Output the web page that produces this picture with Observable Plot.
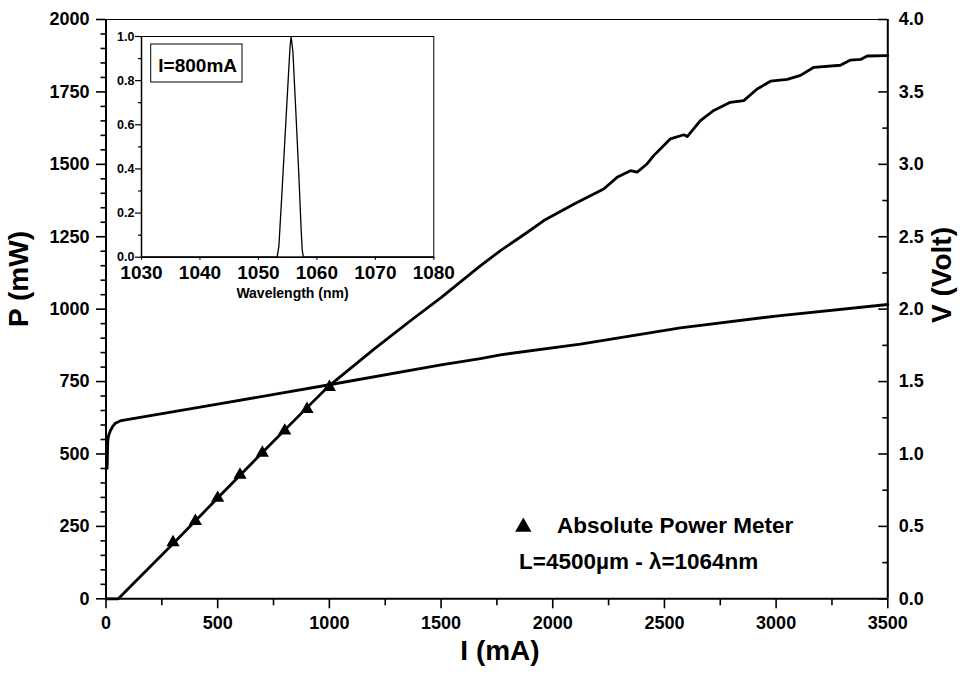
<!DOCTYPE html>
<html><head><meta charset="utf-8">
<script src="https://cdn.jsdelivr.net/npm/d3@7"></script>
<script src="https://cdn.jsdelivr.net/npm/@observablehq/plot@0.6"></script>
<style>
body{margin:0;background:#fff;}
#wrap{position:relative;width:960px;height:675px;}
#wrap svg{position:absolute;left:0;top:0;}
</style></head><body><div id="wrap"></div>
<script>
// ---- main chart data ----
const currentP = [0, 55, 300, 500, 700, 900, 1000, 1200, 1363, 1500, 1677, 1766, 1880, 1960, 2100, 2228, 2288, 2348, 2378, 2423, 2452, 2527, 2587, 2602, 2661, 2721, 2795, 2855, 2915, 2975, 3050, 3109, 3169, 3288, 3333, 3378, 3408, 3500];
const powerP   = [0, 0, 190, 348, 505, 660, 736, 862, 960, 1040, 1150, 1202, 1262, 1306, 1365, 1415, 1455, 1478, 1473, 1502, 1530, 1588, 1602, 1596, 1651, 1686, 1714, 1720, 1760, 1787, 1793, 1807, 1835, 1842, 1860, 1862, 1874, 1875];
const currentV = [5, 6, 7, 8, 12, 20, 30, 42, 68, 500, 1000, 1500, 1676, 1766, 2124, 2571, 3019, 3500];
const voltage  = [0.90, 0.95, 1.03, 1.09, 1.13, 1.162, 1.19, 1.212, 1.231, 1.344, 1.478, 1.615, 1.658, 1.685, 1.759, 1.871, 1.956, 2.032];
const meterI = [300, 400, 500, 600, 700, 800, 900, 1000];
const meterP = [195, 268, 348, 428, 504, 580, 655, 731];
// ---- inset data ----
const wavelength = [1030, 1053.2, 1053.5, 1054.0, 1054.5, 1055.0, 1055.4, 1055.6, 1055.9, 1056.4, 1056.9, 1057.3, 1057.5, 1057.7, 1080];
const intensity  = [0, 0, 0.05, 0.28, 0.52, 0.76, 0.95, 1.0, 0.93, 0.66, 0.38, 0.13, 0.03, 0, 0];
// ---- ticks / labels ----
const xTicks = [0, 500, 1000, 1500, 2000, 2500, 3000, 3500];
const xMinor = [250, 750, 1250, 1750, 2250, 2750, 3250];
const pTicks = [0, 250, 500, 750, 1000, 1250, 1500, 1750, 2000];
const vTicks = [0, 0.5, 1.0, 1.5, 2.0, 2.5, 3.0, 3.5, 4.0];
const vMinor = [0.25, 0.75, 1.25, 1.75, 2.25, 2.75, 3.25, 3.75];
const insetXTicks = [1030, 1040, 1050, 1060, 1070, 1080];
const insetYTicks = [0, 0.2, 0.4, 0.6, 0.8, 1.0];
const insetYMinor = [0.1, 0.3, 0.5, 0.7, 0.9];
const xLabel = "I (mA)", pLabel = "P (mW)", vLabel = "V (Volt)";
const legendText = "Absolute Power Meter", noteText = "L=4500\u00b5m - \u03bb=1064nm";
const insetLabel = "Wavelength (nm)", insetNote = "I=800mA";

const V2P = 2000 / 4.0; // right axis (V) mapped onto left axis (mW)
const pMinor = d3.range(0, 2001, 50).filter(v => v % 250 !== 0);

const F = "'Liberation Sans', Arial, Helvetica, sans-serif";
const mL = 105.5, mR = 72.7, mT = 19, mB = 76.7, W = 960, H = 675;
const frameW = W - mL - mR;
const TF = 18;

const pData = currentP.map((x, i) => ({I: x, P: powerP[i]}));
const vData = currentV.map((x, i) => ({I: x, V: voltage[i]}));
const mData = meterI.map((x, i) => ({I: x, P: meterP[i]}));

const main = Plot.plot({
  width: W, height: H, marginLeft: mL, marginRight: mR, marginTop: mT, marginBottom: mB,
  style: {fontFamily: F, fontWeight: "bold", fontSize: TF + "px", background: "white", overflow: "visible", color: "black"},
  x: {domain: [0, 3500]},
  y: {domain: [0, 2000]},
  marks: [
    Plot.axisX(xMinor, {tickSize: 7, fill: "none", strokeWidth: 1.6, label: null}),
    Plot.axisX(xTicks, {tickSize: 10, tickPadding: 7, strokeWidth: 1.6, fontSize: TF, label: null, tickFormat: d => String(d)}),
    Plot.axisY(pMinor, {tickSize: 5, fill: "none", strokeWidth: 1.6, label: null}),
    Plot.axisY(pTicks, {tickSize: 9.5, tickPadding: 7, strokeWidth: 1.6, fontSize: TF, label: null, tickFormat: d => String(d)}),
    Plot.axisY(vTicks.map(v => v * V2P), {anchor: "right", tickSize: 0, tickPadding: 11, fontSize: TF, label: null, tickFormat: d => (d / V2P).toFixed(1)}),
    Plot.ruleY(vTicks.map(v => v * V2P), {insetLeft: frameW - 9, strokeWidth: 1.6}),
    Plot.ruleY(vMinor.map(v => v * V2P), {insetLeft: frameW - 5, strokeWidth: 1.6}),
    Plot.ruleY([2000], {strokeWidth: 1.2}),
    Plot.ruleY([0], {strokeWidth: 2}),
    Plot.ruleX([0], {strokeWidth: 2}),
    Plot.ruleX([3500], {strokeWidth: 2}),
    Plot.line(vData, {x: "I", y: d => d.V * V2P, strokeWidth: 2.8, strokeLinejoin: "round"}),
    Plot.line(pData, {x: "I", y: "P", strokeWidth: 2.8, strokeLinejoin: "round"}),
    Plot.dot(mData, {x: "I", y: "P", symbol: "triangle", r: 4.9, fill: "black", stroke: "none"})
  ]
});

function addText(sel, x, y, s, size, anchor = "middle", rot = 0) {
  return sel.append("text")
    .attr("transform", `translate(${x},${y})` + (rot ? ` rotate(${rot})` : ""))
    .attr("text-anchor", anchor)
    .style("font-family", F).style("font-weight", "bold").style("font-size", size + "px")
    .attr("fill", "black").text(s);
}
const svg = d3.select(main);
addText(svg, 500, 660, xLabel, 28);
addText(svg, 28, 279, pLabel, 28, "middle", -90);
addText(svg, 951, 275, vLabel, 28, "middle", -90);
// legend
svg.append("path").attr("d", d3.symbol(d3.symbolTriangle, 115)())
  .attr("transform", "translate(523.3,527)").attr("fill", "black");
addText(svg, 557, 533, legendText, 22.5, "start");
addText(svg, 519, 569, noteText, 22.5, "start");

document.getElementById("wrap").appendChild(main);

// ---- inset ----
const sData = wavelength.map((x, i) => ({w: x, v: intensity[i]}));
const iW = 460, iH = 320, iL = 141, iT = 36, iR = iW - 433.3, iB = iH - 256.7;
const inset = Plot.plot({
  width: iW, height: iH, marginLeft: iL, marginRight: iR, marginTop: iT, marginBottom: iB,
  style: {fontFamily: F, fontWeight: "bold", fontSize: "12px", background: "transparent", overflow: "visible", color: "black"},
  x: {domain: [1030, 1080]},
  y: {domain: [0, 1]},
  marks: [
    Plot.frame({fill: "white", stroke: "black", strokeWidth: 1}),
    Plot.axisY(insetYMinor, {tickSize: 3, fill: "none", strokeWidth: 1.2, label: null}),
    Plot.axisY(insetYTicks, {tickSize: 6, tickPadding: 1, strokeWidth: 1.2, fontSize: 12.5, label: null, tickFormat: d => d.toFixed(1)}),
    Plot.axisX(insetXTicks, {tickSize: 3, tickPadding: 5.5, strokeWidth: 1.2, fontSize: 19, label: null, tickFormat: d => String(d)}),
    Plot.ruleX([1030], {strokeWidth: 1.5}),
    Plot.ruleY([0], {strokeWidth: 1.5}),
    Plot.line(sData, {x: "w", y: "v", strokeWidth: 1.3})
  ]
});
const isvg = d3.select(inset);
isvg.append("rect").attr("x", 150.7).attr("y", 44).attr("width", 91.3).attr("height", 38)
  .attr("fill", "white").attr("stroke", "black").attr("stroke-width", 1);
addText(isvg, 158.3, 71.5, insetNote, 19, "start");
addText(isvg, 292.5, 297.5, insetLabel, 14, "middle");
document.getElementById("wrap").appendChild(inset);
</script>
</body></html>
